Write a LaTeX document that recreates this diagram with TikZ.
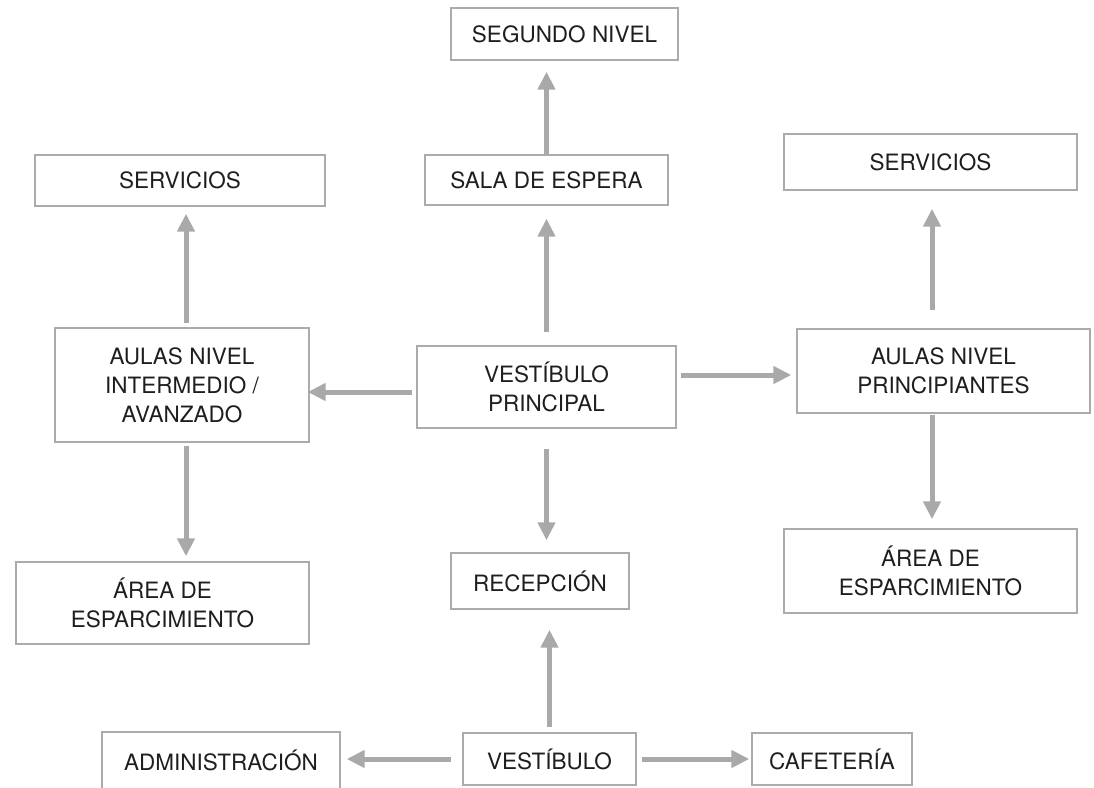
\documentclass[tikz,border=0pt]{standalone}
\usepackage{fontspec}
\setmainfont{TeX Gyre Heros}
\usetikzlibrary{arrows.meta}
\definecolor{boxgray}{HTML}{ABABAB}
\definecolor{arrgray}{HTML}{A9A9A9}
\definecolor{txt}{HTML}{1E1E1E}
\tikzset{
  box/.style={draw=boxgray, line width=1.4pt, fill=white, inner sep=0pt, align=center,
    text=txt, font=\fontsize{22.5}{29}\selectfont},
  arr/.style={draw=arrgray, line width=5pt, -{Triangle[width=17pt,length=18pt]}}
}
\begin{document}
\begin{tikzpicture}[x=1pt,y=-1pt]
\useasboundingbox (0,0) rectangle (1094,787);
\node[box, minimum width=227pt, minimum height=52pt] (seg) at (564.5,34) {SEGUNDO NIVEL};
\node[box, minimum width=243pt, minimum height=50pt] (sala) at (546.5,180) {SALA DE ESPERA};
\node[box, minimum width=290pt, minimum height=51pt] (servL) at (180,180.5) {SERVICIOS};
\node[box, minimum width=293pt, minimum height=56pt] (servR) at (930.5,162) {SERVICIOS};
\node[box, minimum width=254pt, minimum height=114pt] (aulasL) at (182,385) {AULAS NIVEL\\INTERMEDIO /\\AVANZADO};
\node[box, minimum width=259pt, minimum height=82pt] (vp) at (546.5,387) {VESTÍBULO\\PRINCIPAL};
\node[box, minimum width=293pt, minimum height=84pt] (aulasR) at (943.5,371) {AULAS NIVEL\\PRINCIPIANTES};
\node[box, minimum width=293pt, minimum height=82pt] (areaL) at (162.5,603) {ÁREA DE\\ESPARCIMIENTO};
\node[box, minimum width=178pt, minimum height=56pt] (rec) at (540,581) {RECEPCIÓN};
\node[box, minimum width=293pt, minimum height=84pt] (areaR) at (930.5,571) {ÁREA DE\\ESPARCIMIENTO};
\node[box, minimum width=238pt, minimum height=57pt] (admin) at (221,760.5) {ADMINISTRACIÓN};
\node[box, minimum width=173pt, minimum height=52pt] (vest) at (549.5,759) {VESTÍBULO};
\node[box, minimum width=160pt, minimum height=52pt] (caf) at (832,759) {CAFETERÍA};

\draw[arr, shorten >=11pt] (sala.north) -- (sala.north |- seg.south);
\draw[arr, shorten <=13pt, shorten >=13pt] (vp.north) -- (vp.north |- sala.south);
\draw[arr, shorten <=4pt, shorten >=7pt] ([xshift=4pt]aulasL.north) -- ([xshift=4pt]aulasL.north |- servL.south);
\draw[arr, shorten <=18pt, shorten >=18pt] ([xshift=-11.5pt]aulasR.north) -- ([xshift=-11.5pt]aulasR.north |- servR.south);
\draw[arr, shorten <=4pt, shorten >=-2pt] ([yshift=-5pt]vp.west) -- ([yshift=-5pt]vp.west -| aulasL.east);
\draw[arr, shorten <=4pt, shorten >=5pt] ([yshift=12pt]vp.east) -- ([yshift=12pt]vp.east -| aulasR.west);
\draw[arr, shorten <=3pt, shorten >=5pt] ([xshift=4pt]aulasL.south) -- ([xshift=4pt]aulasL.south |- areaL.north);
\draw[arr, shorten <=20pt, shorten >=12pt] (vp.south) -- (vp.south |- rec.north);
\draw[arr, shorten <=1pt, shorten >=9pt] ([xshift=-11.5pt]aulasR.south) -- ([xshift=-11.5pt]aulasR.south |- areaR.north);
\draw[arr, shorten <=5pt, shorten >=20pt] (vest.north) -- (vest.north |- rec.south);
\draw[arr, shorten <=11pt, shorten >=6pt] (vest.west) -- (vest.west -| admin.east);
\draw[arr, shorten <=5pt, shorten >=2pt] (vest.east) -- (vest.east -| caf.west);
\end{tikzpicture}
\end{document}
